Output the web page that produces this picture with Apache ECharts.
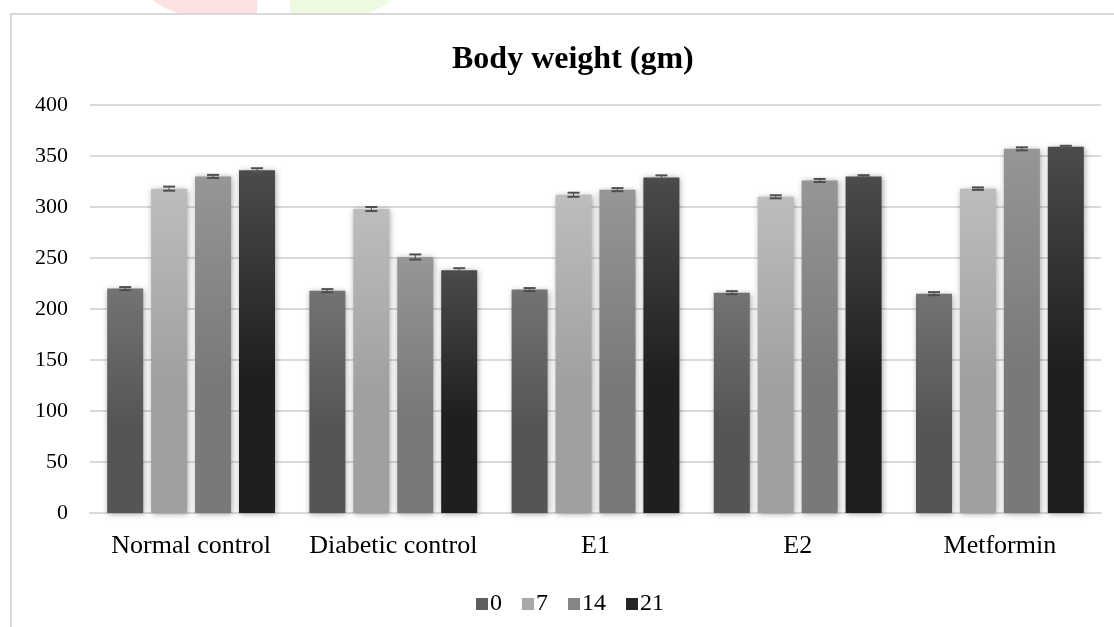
<!DOCTYPE html>
<html>
<head>
<meta charset="utf-8">
<script src="https://cdn.jsdelivr.net/npm/echarts@6/dist/echarts.min.js"></script>
<style>html,body{margin:0;padding:0;background:#fff;}#c{width:1114px;height:627px;}</style>
</head>
<body>
<div id="c"></div>
<script>
const categories = ['Normal control', 'Diabetic control', 'E1', 'E2', 'Metformin'];
const seriesNames = ['0', '7', '14', '21'];
const day0 = [220, 218, 219, 216, 215];
const day7 = [318, 298, 312, 310, 318];
const day14 = [330, 251, 317, 326, 357];
const day21 = [336, 238, 329, 330, 359];
const err0 = [1.5, 1.5, 1.5, 1.5, 1.5];
const err7 = [2, 2, 2, 1.5, 1.2];
const err14 = [1.5, 2.5, 1.5, 1.5, 1.5];
const err21 = [2, 2, 2, 1.2, 1];
const yTicks = [0, 50, 100, 150, 200, 250, 300, 350, 400];

const values = [day0, day7, day14, day21];
const errs = [err0, err7, err14, err21];
const grads = [['#737373', '#555555'], ['#bdbdbd', '#a0a0a0'], ['#969696', '#797979'], ['#4b4b4b', '#1f1f1f']];
const legendColors = ['#5e5e5e', '#a8a8a8', '#858585', '#262626'];

const catGap = 0.17, barGapR = 0.22;
const chart = echarts.init(document.getElementById('c'));

const barSeries = values.map((v, i) => ({
  name: seriesNames[i],
  type: 'bar',
  data: v,
  barCategoryGap: '17%',
  barGap: '22%',
  itemStyle: {
    color: new echarts.graphic.LinearGradient(0, 0, 0, 1, [
      { offset: 0, color: grads[i][0] },
      { offset: 0.6, color: grads[i][1] },
      { offset: 1, color: grads[i][1] }
    ]),
    shadowBlur: 6,
    shadowColor: 'rgba(0,0,0,0.35)',
    shadowOffsetX: 1,
    shadowOffsetY: 1
  },
  emphasis: { disabled: true },
  z: 2
}));

const errSeries = values.map((v, i) => ({
  type: 'custom',
  name: 'err' + i,
  data: v.map((val, k) => [k, val, errs[i][k]]),
  z: 5,
  silent: true,
  renderItem: function (params, api) {
    const k = api.value(0);
    const val = api.value(1);
    const e = api.value(2);
    const catW = api.size([1, 0])[0];
    const used = catW * (1 - catGap);
    const bw = used / (4 + 3 * barGapR);
    const center = api.coord([k, val]);
    const x = center[0] - used / 2 + bw / 2 + i * bw * (1 + barGapR);
    const hi = api.coord([k, val + e])[1];
    const lo = api.coord([k, val - e])[1];
    const cw = 6;
    const st = { stroke: '#4f4f4f', lineWidth: 2 };
    return {
      type: 'group',
      children: [
        { type: 'line', shape: { x1: x, y1: hi, x2: x, y2: lo }, style: { stroke: '#4f4f4f', lineWidth: 1 } },
        { type: 'line', shape: { x1: x - cw, y1: hi, x2: x + cw, y2: hi }, style: st },
        { type: 'line', shape: { x1: x - cw, y1: lo, x2: x + cw, y2: lo }, style: st }
      ]
    };
  }
}));

chart.setOption({
  animation: false,
  backgroundColor: '#ffffff',
  title: {
    text: 'Body weight (gm)',
    left: 447,
    top: 39,
    textStyle: { fontFamily: 'Liberation Serif', fontWeight: 'bold', fontSize: 32, color: '#000' }
  },
  graphic: [
    { type: 'polygon', shape: { points: [[152, 0], [257, 0], [257, 13], [178, 13], [165, 8]] }, style: { fill: '#fde2e2' }, z: -1 },
    { type: 'polygon', shape: { points: [[290, 0], [392, 0], [380, 8], [368, 13], [290, 13]] }, style: { fill: '#eefae2' }, z: -1 },
    { type: 'rect', shape: { x: 11, y: 14, width: 1130, height: 640 }, style: { fill: 'none', stroke: '#d9d9d9', lineWidth: 2 }, z: -1 }
  ],
  legend: {
    data: seriesNames.map((n, i) => ({ name: n, itemStyle: { color: legendColors[i] } })),
    bottom: 6,
    left: 471,
    icon: 'rect',
    itemWidth: 12,
    itemHeight: 12,
    itemGap: 20,
    textStyle: { fontFamily: 'Liberation Serif', fontSize: 24, color: '#000', padding: [0, 0, 0, -3] }
  },
  grid: { left: 90, right: 13, top: 105, bottom: 114, containLabel: false },
  xAxis: {
    type: 'category',
    data: categories,
    axisLine: { lineStyle: { color: '#d9d9d9', width: 2 } },
    axisTick: { show: false },
    axisLabel: { fontFamily: 'Liberation Serif', fontSize: 26, color: '#000', margin: 20, interval: 0, hideOverlap: false }
  },
  yAxis: {
    type: 'value',
    min: 0,
    max: 400,
    interval: 50,
    axisLine: { show: false },
    axisTick: { show: false },
    splitLine: { lineStyle: { color: '#d9d9d9', width: 2 } },
    axisLabel: {
      fontFamily: 'Liberation Serif', fontSize: 22, color: '#000', margin: 22,
      formatter: function (v) { return yTicks.indexOf(v) >= 0 ? String(v) : ''; }
    }
  },
  series: barSeries.concat(errSeries)
});
</script>
</body>
</html>
